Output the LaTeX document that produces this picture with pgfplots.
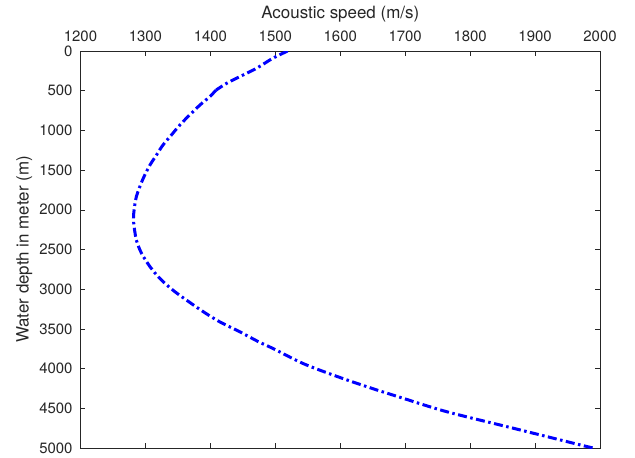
\documentclass[border=0pt]{standalone}
\usepackage{fontspec}
\setmainfont{TeX Gyre Heros}
\usepackage{pgfplots}
\pgfplotsset{compat=1.18}
\definecolor{axgray}{rgb}{0.15,0.15,0.15}
\begin{document}
\begin{tikzpicture}
\begin{axis}[
  scale only axis,
  width=519.5bp, height=397bp,
  xmin=1200, xmax=2000,
  ymin=0, ymax=5000,
  y dir=reverse,
  xtick={1200,1300,...,2000},
  ytick={0,500,...,5000},
  xticklabel pos=upper,
  tick align=inside,
  major tick length=5bp,
  tick style={axgray, line width=0.6bp},
  axis line style={axgray, line width=0.6bp},
  /pgf/number format/assume math mode=true,
  /pgf/number format/1000 sep={},
  tick label style={font=\fontsize{15}{18}\selectfont, text=axgray, inner sep=0pt},
  xticklabel style={anchor=base, yshift=9.3bp},
  yticklabel style={anchor=east, xshift=-7.8bp},
  xlabel={Acoustic speed (m/s)},
  ylabel={Water depth in meter (m)},
  label style={font=\fontsize{17}{20}\selectfont, text=axgray, inner sep=0pt},
  xlabel style={at={(axis description cs:0.5,1)}, anchor=base, yshift=32.7bp},
  ylabel style={at={(axis description cs:0,0.5)}, anchor=south, yshift=48bp},
]
\addplot[blue, line width=3bp, line cap=butt, dash pattern=on 9bp off 3.5bp on 2.5bp off 3.5bp, smooth, tension=0.5] coordinates {
(1519,0) (1496,92) (1471,218) (1445,324) (1425,407) (1409,491)
};
\addplot[blue, line width=3bp, line cap=butt, dash pattern=on 9bp off 3.5bp on 2.5bp off 3.5bp, smooth, tension=0.5] coordinates {
(1409,491) (1399,575) (1384,680) (1368,806) (1353,932) (1340,1058)
(1327,1184) (1317,1310) (1307,1436) (1296,1615) (1286,1835) (1282,2044)
(1282,2170) (1286,2380) (1294,2548) (1307,2716) (1322,2863) (1342,3010)
(1363,3136) (1389,3283) (1414,3409) (1445,3535) (1474,3661) (1496,3745)
(1542,3933) (1589,4081) (1641,4228) (1692,4361) (1764,4543) (1867,4752)
(1970,4962) (1990,5000)
};
\end{axis}
\path (current axis.south west) ++(-80.5bp,-10bp) rectangle ++(635bp,458bp);
\end{tikzpicture}
\end{document}
